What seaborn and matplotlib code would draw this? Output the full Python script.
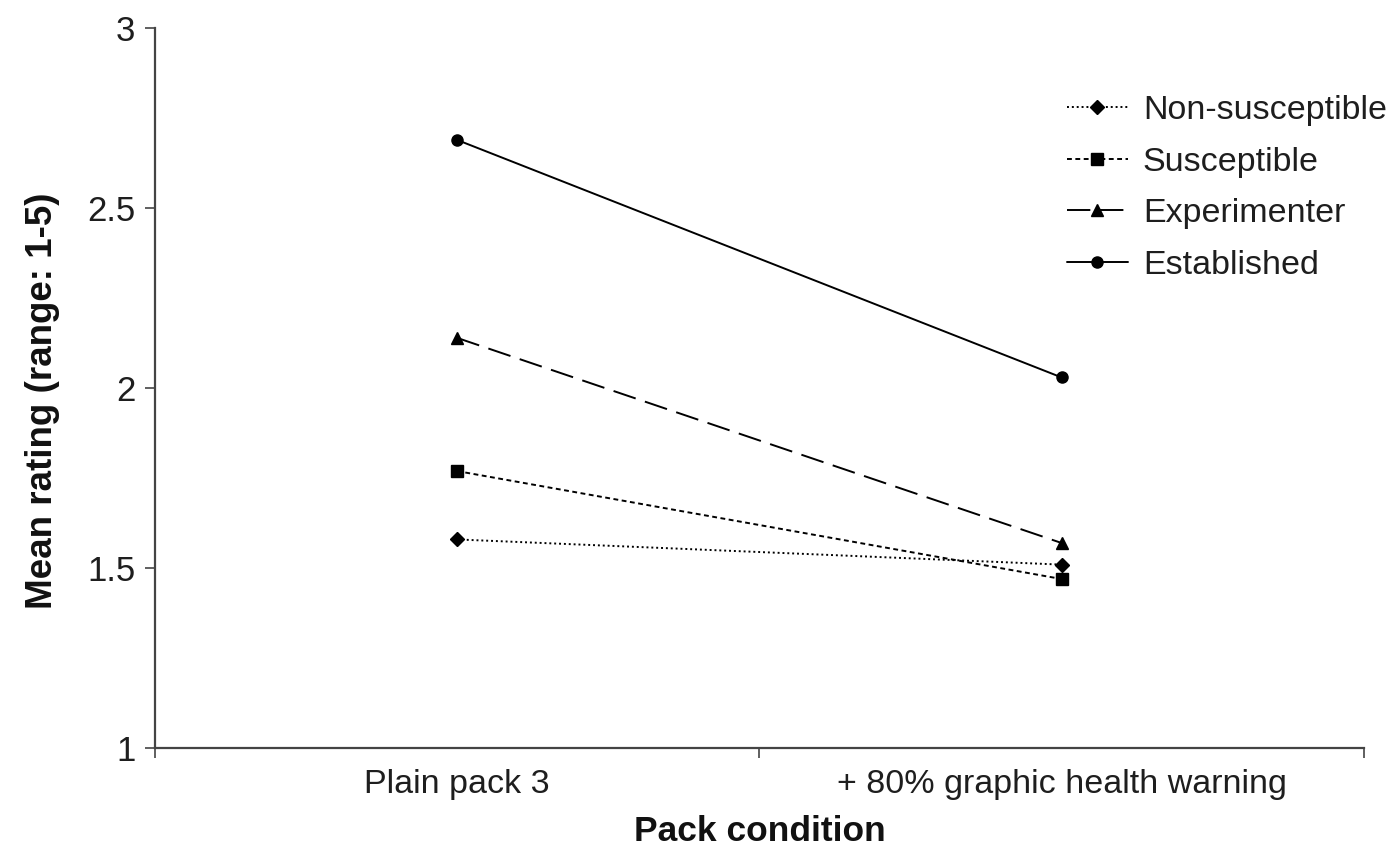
import matplotlib
matplotlib.use('Agg')
import matplotlib.pyplot as plt
import seaborn as sns
import pandas as pd

# dados
conditions = ['Plain pack 3', '+ 80% graphic health warning']
groups = ['Non-susceptible', 'Susceptible', 'Experimenter', 'Established']
non_susceptible = [1.58, 1.51]
susceptible = [1.77, 1.47]
experimenter = [2.14, 1.57]
established = [2.69, 2.03]

values = [non_susceptible, susceptible, experimenter, established]
rows = []
for g, vals in zip(groups, values):
    for c, v in zip(conditions, vals):
        rows.append({'Grupo': g, 'Condicao': c, 'Media': v})
df = pd.DataFrame(rows)

sns.set_style('white')
plt.rcParams['font.family'] = ['Liberation Sans', 'DejaVu Sans']

fig = plt.figure(figsize=(13.94, 8.59), dpi=100)
ax = fig.add_axes([0.111, 0.129, 0.8675, 0.838])

estilos = {
    'Non-susceptible': dict(marker='D', dashes=(1, 1.5), ms=7.5),
    'Susceptible': dict(marker='s', dashes=(2.5, 1.8), ms=8),
    'Experimenter': dict(marker='^', dashes=(12, 5), ms=8.5),
    'Established': dict(marker='o', dashes=(None, None), ms=8),
}

for g in groups:
    sub = df[df['Grupo'] == g]
    st = estilos[g]
    line = ax.plot(sub['Condicao'], sub['Media'], color='black', lw=1.4,
                   marker=st['marker'], markersize=st['ms'], label=g)[0]
    if st['dashes'][0] is not None:
        line.set_dashes(st['dashes'])

ax.set_xlim(-0.5, 1.5)
ax.set_ylim(1, 3)
ax.set_yticks([1, 1.5, 2, 2.5, 3])
ax.set_yticklabels(['1', '1.5', '2', '2.5', '3'])
ax.set_xticks([0, 1])
ax.set_xticklabels(conditions)
ax.set_xticks([-0.5, 0.5, 1.5], minor=True)
ax.tick_params(axis='x', which='major', length=0, pad=15, labelsize=24.5, labelcolor='#1e1e1e')
ax.tick_params(axis='x', which='minor', length=7, width=1.2, direction='out', color='#444444', bottom=True)
ax.tick_params(axis='y', length=7, width=1.2, direction='out', left=True, pad=7, labelsize=25,
               color='#444444', labelcolor='#1e1e1e')

sns.despine(ax=ax)
for s in ['left', 'bottom']:
    ax.spines[s].set_color('#444444')
    ax.spines[s].set_linewidth(1.6)

ax.set_xlabel('Pack condition', fontsize=25.5, fontweight='bold', labelpad=11, color='#111111')
ax.set_ylabel('Mean rating (range: 1-5)', fontsize=26.5, fontweight='bold', color='#111111')
ax.yaxis.set_label_coords(-0.078, 0.483)

leg = ax.legend(loc='upper left', bbox_to_anchor=(0.754, 0.907), frameon=False, fontsize=24.5,
                handlelength=1.8, handletextpad=0.44, labelspacing=0.6, borderaxespad=0, borderpad=0)
for t in leg.get_texts():
    t.set_color('#1e1e1e')

fig.savefig('out.png', dpi=100)
